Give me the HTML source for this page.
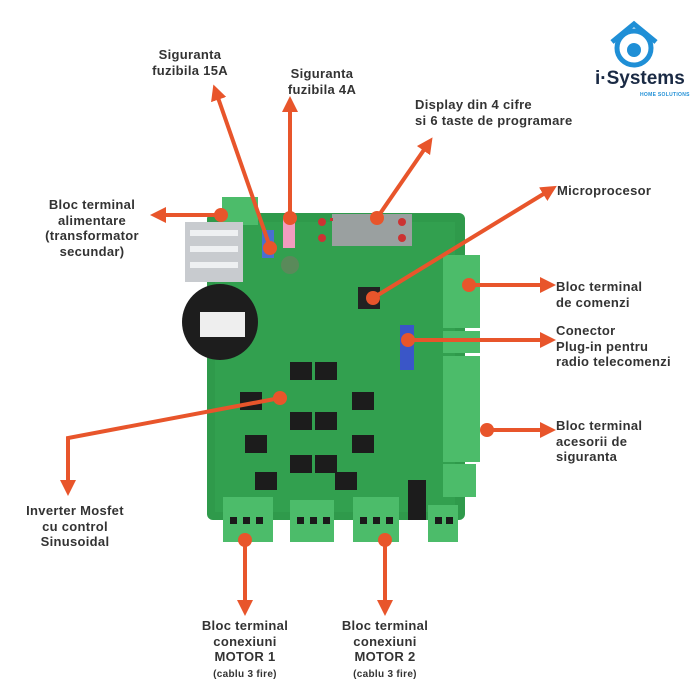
<!DOCTYPE html>
<html><head><style>
body{margin:0;width:700px;height:700px;background:#fff;position:relative;overflow:hidden;font-family:"Liberation Sans",sans-serif}
.t{position:absolute;font-weight:bold;color:#333;font-size:13px;line-height:15.5px;letter-spacing:0.3px}
.c{text-align:center}
</style></head><body>
<svg width="700" height="700" style="position:absolute;left:0;top:0">
<defs><marker id="a" markerWidth="4" markerHeight="4" refX="2" refY="2" orient="auto"><path d="M0,0L4,2L0,4z" fill="#e8552b"/></marker></defs>
<!-- board -->
<rect x="207" y="213" width="258" height="307" rx="6" fill="#2f9a4b"/>
<rect x="215" y="222" width="240" height="290" fill="#35a552" opacity="0.6"/>
<!-- top terminal -->
<rect x="222" y="197" width="36" height="28" fill="#4cbc6a"/>
<!-- heatsink -->
<rect x="185" y="222" width="58" height="60" fill="#c8cbcf"/>
<rect x="190" y="230" width="48" height="6" fill="#eef0f2"/><rect x="190" y="246" width="48" height="6" fill="#eef0f2"/><rect x="190" y="262" width="48" height="6" fill="#eef0f2"/>
<!-- capacitor -->
<circle cx="220" cy="322" r="38" fill="#1d1d1d"/>
<rect x="200" y="312" width="45" height="25" fill="#eee"/>
<!-- fuses -->
<rect x="262" y="230" width="12" height="28" fill="#4a6fd0"/>
<rect x="283" y="218" width="12" height="30" fill="#f29cbf"/>
<circle cx="290" cy="265" r="9" fill="#5a8a5a"/>
<!-- displays -->
<rect x="332" y="214" width="80" height="32" fill="#9aa0a0"/>
<rect x="330" y="218" width="3" height="3" fill="#c33"/>
<circle cx="322" cy="222" r="4" fill="#c33"/><circle cx="322" cy="238" r="4" fill="#c33"/><circle cx="402" cy="222" r="4" fill="#c33"/><circle cx="402" cy="238" r="4" fill="#c33"/>
<rect x="358" y="287" width="22" height="22" fill="#222"/>
<rect x="400" y="325" width="14" height="45" fill="#3a56c8"/>
<!-- mosfets -->
<g fill="#1c1c1c">
<rect x="290" y="362" width="22" height="18"/><rect x="315" y="362" width="22" height="18"/>
<rect x="240" y="392" width="22" height="18"/><rect x="352" y="392" width="22" height="18"/>
<rect x="290" y="412" width="22" height="18"/><rect x="315" y="412" width="22" height="18"/>
<rect x="245" y="435" width="22" height="18"/><rect x="352" y="435" width="22" height="18"/>
<rect x="290" y="455" width="22" height="18"/><rect x="315" y="455" width="22" height="18"/>
<rect x="255" y="472" width="22" height="18"/><rect x="335" y="472" width="22" height="18"/>
<rect x="408" y="480" width="18" height="40"/>
</g>
<!-- right terminals -->
<rect x="443" y="255" width="37" height="73" fill="#4cbc6a"/>
<rect x="443" y="331" width="37" height="22" fill="#4cbc6a"/>
<rect x="443" y="356" width="37" height="106" fill="#4cbc6a"/>
<rect x="443" y="464" width="33" height="33" fill="#4cbc6a"/>
<!-- bottom terminals -->
<rect x="223" y="497" width="50" height="45" fill="#4cbc6a"/>
<rect x="290" y="500" width="44" height="42" fill="#4cbc6a"/>
<rect x="353" y="497" width="46" height="45" fill="#4cbc6a"/>
<rect x="428" y="505" width="30" height="37" fill="#4cbc6a"/>
<g fill="#1a1a1a"><rect x="230" y="517" width="7" height="7"/><rect x="243" y="517" width="7" height="7"/><rect x="256" y="517" width="7" height="7"/>
<rect x="297" y="517" width="7" height="7"/><rect x="310" y="517" width="7" height="7"/><rect x="323" y="517" width="7" height="7"/>
<rect x="360" y="517" width="7" height="7"/><rect x="373" y="517" width="7" height="7"/><rect x="386" y="517" width="7" height="7"/>
<rect x="435" y="517" width="7" height="7"/><rect x="446" y="517" width="7" height="7"/></g>
<!-- arrows -->
<g stroke="#e8552b" stroke-width="4" fill="none" marker-end="url(#a)">
<path d="M270,247L216,92"/>
<path d="M290,218L290,104"/>
<path d="M377,218L428,144"/>
<path d="M222,215L158,215"/>
<path d="M373,298L550,190"/>
<path d="M470,285L548,285"/>
<path d="M408,340L548,340"/>
<path d="M488,430L548,430"/>
<path d="M280,398L68,438L68,488"/>
<path d="M245,540L245,608"/>
<path d="M385,540L385,608"/>
</g>
<g fill="#e8552b"><circle cx="270" cy="248" r="7"/><circle cx="290" cy="218" r="7"/><circle cx="377" cy="218" r="7"/><circle cx="221" cy="215" r="7"/><circle cx="373" cy="298" r="7"/><circle cx="469" cy="285" r="7"/><circle cx="408" cy="340" r="7"/><circle cx="487" cy="430" r="7"/><circle cx="280" cy="398" r="7"/><circle cx="245" cy="540" r="7"/><circle cx="385" cy="540" r="7"/></g>
<!-- logo -->
<circle cx="634" cy="48" r="17" fill="none" stroke="#1f8fd6" stroke-width="5"/>
<path d="M612,42L634,24L656,42" stroke="#1f8fd6" stroke-width="5" fill="none"/>
<circle cx="634" cy="50" r="7" fill="#1f8fd6"/>
</svg>
<div class="t" style="left:595px;top:71px;font-size:19px;color:#1a2a44;letter-spacing:0">i·Systems</div>
<div class="t" style="left:640px;top:92px;font-size:5px;line-height:6px;color:#1f8fd6">HOME SOLUTIONS</div>
<div class="t c" style="left:130px;top:47px;width:120px">Siguranta<br>fuzibila 15A</div>
<div class="t c" style="left:262px;top:66px;width:120px">Siguranta<br>fuzibila 4A</div>
<div class="t" style="left:415px;top:97px">Display din 4 cifre<br>si 6 taste de programare</div>
<div class="t c" style="left:22px;top:197px;width:140px">Bloc terminal<br>alimentare<br>(transformator<br>secundar)</div>
<div class="t" style="left:557px;top:183px">Microprocesor</div>
<div class="t" style="left:556px;top:279px">Bloc terminal<br>de comenzi</div>
<div class="t" style="left:556px;top:323px">Conector<br>Plug-in pentru<br>radio telecomenzi</div>
<div class="t" style="left:556px;top:418px">Bloc terminal<br>acesorii de<br>siguranta</div>
<div class="t c" style="left:5px;top:503px;width:140px">Inverter Mosfet<br>cu control<br>Sinusoidal</div>
<div class="t c" style="left:175px;top:618px;width:140px">Bloc terminal<br>conexiuni<br>MOTOR 1<br><span style="font-size:10px">(cablu 3 fire)</span></div>
<div class="t c" style="left:315px;top:618px;width:140px">Bloc terminal<br>conexiuni<br>MOTOR 2<br><span style="font-size:10px">(cablu 3 fire)</span></div>
</body></html>
